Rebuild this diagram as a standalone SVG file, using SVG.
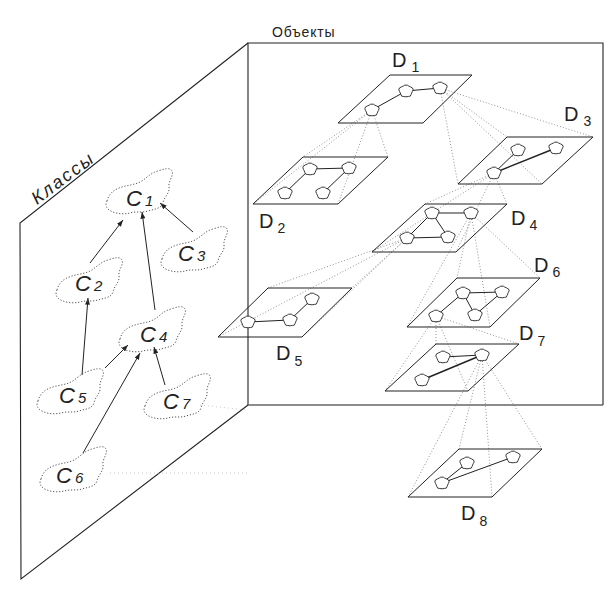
<svg xmlns="http://www.w3.org/2000/svg" width="613" height="589" viewBox="0 0 613 589">
<defs>
<style>
.panel{fill:none;stroke:#222;stroke-width:1.1}
.floor{fill:none;stroke:#666;stroke-width:1.6}
.plane{fill:none;stroke:#222;stroke-width:1}
.proj{stroke:#777;stroke-width:0.8;stroke-dasharray:1 2;fill:none}
.faint{stroke:#bbb;stroke-width:0.8;stroke-dasharray:1 3;fill:none}
.edge{stroke:#222;stroke-width:1}
.edge2{stroke:#222;stroke-width:1.4}
.obj{fill:#fff;stroke:#222;stroke-width:0.9}
.cloud{fill:none;stroke:#555;stroke-width:1;stroke-dasharray:1.2 1.8}
.arr{stroke:#222;stroke-width:1;fill:none;marker-end:url(#ah)}
.cl{font-family:"Liberation Sans",Arial,sans-serif;font-style:italic;fill:#222}
.dl{font-family:"Liberation Sans",Arial,sans-serif;fill:#222}
</style>
<marker id="ah" viewBox="0 0 8 6" refX="8" refY="3" markerWidth="7" markerHeight="5" orient="auto" markerUnits="userSpaceOnUse"><path d="M0,0 L8,3 L0,6 Z" fill="#222"/></marker>
<path id="blob" d="M0,-5.8 Q1.5,-6.2 2.6,-5 Q4.5,-4.2 6.6,-3 Q7.8,-1.2 6.3,0.6 Q5.6,2 5,3.6 Q4.8,5.8 2.5,5.4 Q0,6.2 -2.2,5.5 Q-4.8,5.8 -5.1,3.6 Q-5.6,2 -6.4,0.6 Q-7.8,-1.2 -6.6,-3 Q-4.5,-4.2 -2.6,-5 Q-1.5,-6.2 0,-5.8 Z"/>
<path id="cloudp" d="M-33,10 C-31,2 -25,-2 -18,-4 C-12,-6 -6,-6 0,-9 C6,-12 10,-18 18,-20 C24,-22 30,-24 32,-20 C34,-15 28,-10 29,-4 C30,2 24,6 23,12 C21,18 14,18 8,20 C2,22 -4,20 -10,22 C-18,24 -28,22 -32,18 C-35,15 -34,12 -33,10 Z"/>
</defs>

<g id="panels">
<polyline class="panel" points="248,43 20,223 21,579 248,405"/>
<polyline class="panel" points="248,405 248,43 603,43 603,405"/>
<line class="floor" x1="248" y1="405" x2="603" y2="405"/>
<text class="dl" x="272" y="37" font-size="14" letter-spacing="0.8">Объекты</text>
<text class="cl" transform="translate(37,205) rotate(-37)" font-size="18" letter-spacing="2">Классы</text>
</g>

<g id="connectors">
<g class="proj">
<line x1="372" y1="110" x2="303" y2="157"/><line x1="372" y1="110" x2="388" y2="157"/><line x1="372" y1="110" x2="338" y2="204"/><line x1="372" y1="110" x2="253" y2="204"/>
<line x1="440" y1="88" x2="507" y2="137"/><line x1="440" y1="88" x2="593" y2="137"/><line x1="440" y1="88" x2="542" y2="184"/><line x1="440" y1="88" x2="458" y2="184"/>
<line x1="494" y1="173" x2="425" y2="204"/><line x1="494" y1="173" x2="507" y2="204"/><line x1="494" y1="173" x2="456" y2="252"/><line x1="494" y1="173" x2="372" y2="252"/>
<line x1="407" y1="238" x2="268" y2="288"/><line x1="407" y1="238" x2="352" y2="288"/><line x1="407" y1="238" x2="302" y2="337"/><line x1="407" y1="238" x2="218" y2="337"/>
<line x1="471" y1="213" x2="457" y2="278"/><line x1="471" y1="213" x2="540" y2="278"/><line x1="471" y1="213" x2="490" y2="327"/><line x1="471" y1="213" x2="407" y2="327"/>
<line x1="436" y1="316" x2="436" y2="344"/><line x1="436" y1="316" x2="519" y2="344"/><line x1="436" y1="316" x2="468" y2="391"/><line x1="436" y1="316" x2="385" y2="391"/>
<line x1="482" y1="355" x2="459" y2="449"/><line x1="482" y1="355" x2="542" y2="449"/><line x1="482" y1="355" x2="492" y2="497"/><line x1="482" y1="355" x2="408" y2="497"/>
</g>
<line class="faint" x1="200" y1="405" x2="247" y2="410"/>
<line class="faint" x1="110" y1="473" x2="250" y2="473"/>
<line class="arr" x1="90" y1="263" x2="123" y2="220"/>
<line class="arr" x1="155" y1="310" x2="142" y2="212"/>
<line class="arr" x1="193" y1="232" x2="160" y2="203"/>
<line class="arr" x1="82" y1="375" x2="88" y2="298"/>
<line class="arr" x1="105" y1="368" x2="128" y2="345"/>
<line class="arr" x1="83" y1="453" x2="140" y2="353"/>
<line class="arr" x1="165" y1="385" x2="154" y2="347"/>
</g>

<g id="C1"><use href="#cloudp" class="cloud" transform="translate(140,191)"/><text class="cl" x="126" y="206" font-size="22">C<tspan font-size="15" dx="3">1</tspan></text></g>
<g id="C2"><use href="#cloudp" class="cloud" transform="translate(90,280)"/><text class="cl" x="75" y="291" font-size="22">C<tspan font-size="15" dx="3">2</tspan></text></g>
<g id="C3"><use href="#cloudp" class="cloud" transform="translate(195,249)"/><text class="cl" x="178" y="261" font-size="22">C<tspan font-size="15" dx="3">3</tspan></text></g>
<g id="C4"><use href="#cloudp" class="cloud" transform="translate(153,329)"/><text class="cl" x="140" y="342" font-size="22">C<tspan font-size="15" dx="3">4</tspan></text></g>
<g id="C5"><use href="#cloudp" class="cloud" transform="translate(71,391)"/><text class="cl" x="59" y="403" font-size="22">C<tspan font-size="15" dx="3">5</tspan></text></g>
<g id="C6"><use href="#cloudp" class="cloud" transform="translate(74,469)"/><text class="cl" x="56" y="483" font-size="22">C<tspan font-size="15" dx="3">6</tspan></text></g>
<g id="C7"><use href="#cloudp" class="cloud" transform="translate(178,396)"/><text class="cl" x="163" y="409" font-size="22">C<tspan font-size="15" dx="3">7</tspan></text></g>

<g id="D1">
<polygon class="plane" points="390,75 472,75 423,123 338,123"/>
<line class="edge" x1="372" y1="110" x2="406" y2="91"/><line class="edge" x1="406" y1="91" x2="440" y2="88"/>
<use href="#blob" class="obj" x="372" y="110"/><use href="#blob" class="obj" x="406" y="91"/><use href="#blob" class="obj" x="440" y="88"/>
<text class="dl" x="392" y="67" font-size="20">D<tspan font-size="14" dx="5" dy="5">1</tspan></text>
</g>
<g id="D2">
<polygon class="plane" points="303,157 388,157 338,204 253,204"/>
<line class="edge" x1="310" y1="169" x2="349" y2="168"/><line class="edge" x1="310" y1="169" x2="285" y2="193"/><line class="edge" x1="349" y1="168" x2="323" y2="193"/>
<use href="#blob" class="obj" x="310" y="169"/><use href="#blob" class="obj" x="349" y="168"/><use href="#blob" class="obj" x="285" y="193"/><use href="#blob" class="obj" x="323" y="193"/>
<text class="dl" x="259" y="228" font-size="20">D<tspan font-size="14" dx="4" dy="5">2</tspan></text>
</g>
<g id="D3">
<polygon class="plane" points="507,137 593,137 542,184 458,184"/>
<line class="edge" x1="494" y1="173" x2="518" y2="150"/><line class="edge2" x1="494" y1="173" x2="556" y2="148"/>
<use href="#blob" class="obj" x="518" y="150"/><use href="#blob" class="obj" x="556" y="148"/><use href="#blob" class="obj" x="494" y="173"/>
<text class="dl" x="564" y="121" font-size="20">D<tspan font-size="14" dx="5" dy="5">3</tspan></text>
</g>
<g id="D4">
<polygon class="plane" points="425,204 507,204 456,252 372,252"/>
<line class="edge" x1="432" y1="213" x2="471" y2="213"/><line class="edge" x1="432" y1="213" x2="407" y2="238"/><line class="edge" x1="432" y1="213" x2="448" y2="237"/><line class="edge" x1="407" y1="238" x2="448" y2="237"/>
<use href="#blob" class="obj" x="432" y="213"/><use href="#blob" class="obj" x="471" y="213"/><use href="#blob" class="obj" x="407" y="238"/><use href="#blob" class="obj" x="448" y="237"/>
<text class="dl" x="511" y="225" font-size="20">D<tspan font-size="14" dx="4" dy="5">4</tspan></text>
</g>
<g id="D5">
<polygon class="plane" points="268,288 352,288 302,337 218,337"/>
<line class="edge" x1="248" y1="322" x2="290" y2="320"/><line class="edge" x1="290" y1="320" x2="312" y2="299"/>
<use href="#blob" class="obj" x="312" y="299"/><use href="#blob" class="obj" x="290" y="320"/><use href="#blob" class="obj" x="248" y="322"/>
<text class="dl" x="276" y="360" font-size="20">D<tspan font-size="14" dx="4" dy="6">5</tspan></text>
</g>
<g id="D6">
<polygon class="plane" points="457,278 540,278 490,327 407,327"/>
<line class="edge" x1="463" y1="293" x2="502" y2="292"/><line class="edge" x1="436" y1="316" x2="463" y2="293"/><line class="edge" x1="463" y1="293" x2="475" y2="315"/><line class="edge" x1="502" y1="292" x2="475" y2="315"/>
<use href="#blob" class="obj" x="463" y="293"/><use href="#blob" class="obj" x="502" y="292"/><use href="#blob" class="obj" x="436" y="316"/><use href="#blob" class="obj" x="475" y="315"/>
<text class="dl" x="534" y="272" font-size="20">D<tspan font-size="14" dx="4" dy="5">6</tspan></text>
</g>
<g id="D7">
<polygon class="plane" points="436,344 519,344 468,391 385,391"/>
<line class="edge" x1="443" y1="357" x2="482" y2="355"/><line class="edge2" x1="422" y1="380" x2="482" y2="355"/>
<use href="#blob" class="obj" x="443" y="357"/><use href="#blob" class="obj" x="482" y="355"/><use href="#blob" class="obj" x="422" y="380"/>
<text class="dl" x="519" y="340" font-size="20">D<tspan font-size="14" dx="4" dy="6">7</tspan></text>
</g>
<g id="D8">
<polygon class="plane" points="459,449 542,449 492,497 408,497"/>
<line class="edge" x1="442" y1="483" x2="467" y2="463"/><line class="edge" x1="442" y1="483" x2="513" y2="457"/>
<use href="#blob" class="obj" x="467" y="463"/><use href="#blob" class="obj" x="513" y="457"/><use href="#blob" class="obj" x="442" y="483"/>
<text class="dl" x="461" y="520" font-size="20">D<tspan font-size="14" dx="4" dy="6">8</tspan></text>
</g>
</svg>
